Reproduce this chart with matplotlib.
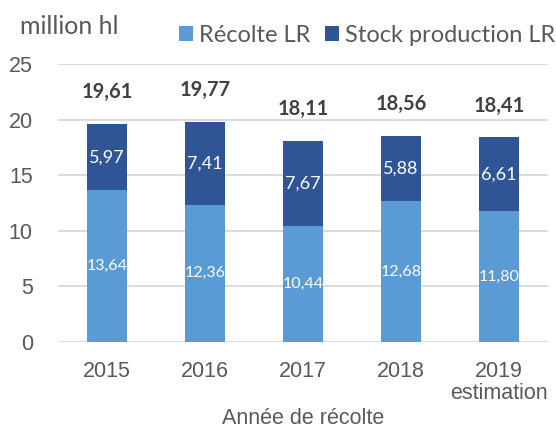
import numpy as np
import matplotlib
matplotlib.use('Agg')
import matplotlib.pyplot as plt

# donnees
annees = ['2015', '2016', '2017', '2018', '2019\nestimation']
recolte = [13.64, 12.36, 10.44, 12.68, 11.80]
stock = [5.97, 7.41, 7.67, 5.88, 6.61]
totaux = [19.61, 19.77, 18.11, 18.56, 18.41]

c_clair = '#5B9BD5'
c_fonce = '#2F5597'
gris = '#595959'

def fr(v):
    return f'{v:.2f}'.replace('.', ',')

fig = plt.figure(figsize=(5.56, 4.28), dpi=100)
ax = fig.add_axes([0.104, 0.201, 0.882, 0.649])

x = np.arange(len(annees))
b1 = ax.bar(x, recolte, width=0.41, color=c_clair, label='Récolte LR', zorder=3)
b2 = ax.bar(x, stock, width=0.41, bottom=recolte, color=c_fonce, label='Stock production LR', zorder=3)

for i in range(len(x)):
    ax.text(x[i], recolte[i] / 2, fr(recolte[i]), ha='center', va='center',
            color='white', fontsize=11.5, family='Lato', zorder=4)
    ax.text(x[i], recolte[i] + stock[i] / 2, fr(stock[i]), ha='center', va='center',
            color='white', fontsize=13, family='Lato', zorder=4)
    ax.annotate(fr(totaux[i]), (x[i], totaux[i]), xytext=(0, 23), textcoords='offset points',
                ha='center', va='center', fontsize=14.5, fontweight='bold',
                color='#404040', family='Lato')

ax.set_xlim(-0.5, 4.5)
ax.set_ylim(0, 25)
ax.set_yticks([0, 5, 10, 15, 20, 25])
ax.yaxis.grid(True, color='#D9D9D9', linewidth=1.3, zorder=0)
ax.set_axisbelow(True)
for s in ax.spines.values():
    s.set_visible(False)
ax.tick_params(length=0)
ax.tick_params(axis='y', pad=18)
ax.tick_params(axis='x', pad=13.5)
ax.set_xticks(x)
ax.set_xticklabels(annees, fontsize=15.5, color=gris, family='Liberation Sans', linespacing=1.05)
plt.setp(ax.get_yticklabels(), fontsize=15.5, color=gris, family='Liberation Sans')

fig.text(0.546, 0.023, 'Année de récolte', fontsize=15.5, color=gris, family='Liberation Sans',
         ha='center', va='center')

fig.text(0.036, 0.937, 'million hl', fontsize=18, color=gris, family='Lato', va='center')

fig.legend(handles=[b1, b2], loc='center right', bbox_to_anchor=(0.998, 0.918), ncol=2,
           frameon=False, handlelength=0.6, handleheight=0.6, handletextpad=0.25,
           columnspacing=0.6, borderaxespad=0, borderpad=0,
           prop={'family': 'Lato', 'size': 17}, labelcolor=gris)

fig.savefig('out.png', dpi=100)
